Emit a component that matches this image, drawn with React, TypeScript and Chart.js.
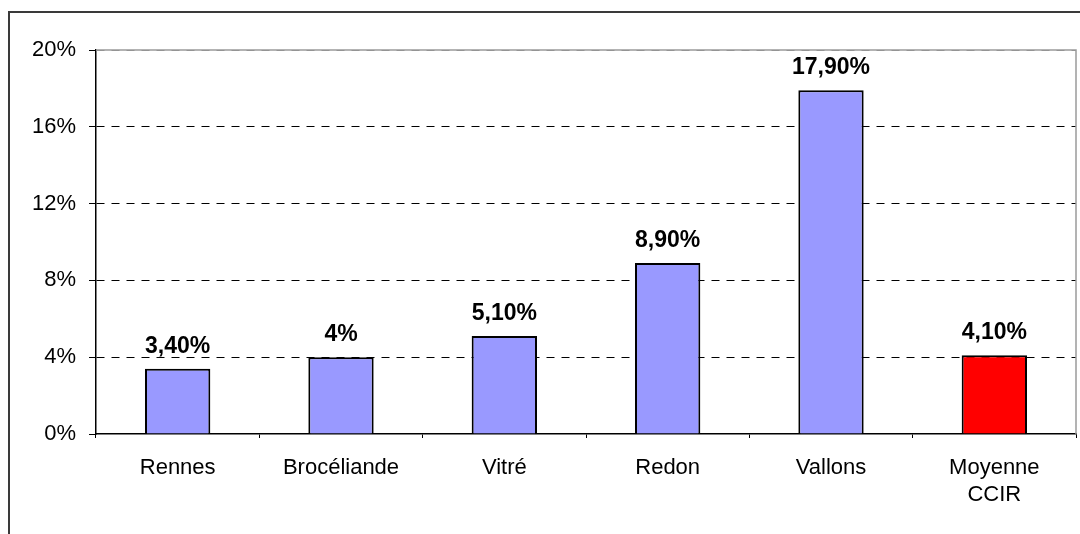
import React, { useEffect, useRef } from "react";
import { Chart, registerables } from "chart.js";

Chart.register(...registerables);

const categories: (string | string[])[] = ["Rennes", "Brocéliande", "Vitré", "Redon", "Vallons", ["Moyenne", "CCIR"]];
const values = [3.4, 4, 5.1, 8.9, 17.9, 4.1];
const valueLabels = ["3,40%", "4%", "5,10%", "8,90%", "17,90%", "4,10%"];
const barColors = ["#9999FF", "#9999FF", "#9999FF", "#9999FF", "#9999FF", "#FF0000"];
const yTicks = [0, 4, 8, 12, 16, 20];

const FONT = "'Liberation Sans', Arial, sans-serif";

const framePlugin = {
  id: "framePlugin",
  beforeDraw(chart: any) {
    const ctx = chart.ctx;
    ctx.save();
    ctx.strokeStyle = "#3a3a3a";
    ctx.lineWidth = 2;
    ctx.beginPath();
    ctx.moveTo(9, 540);
    ctx.lineTo(9, 12);
    ctx.lineTo(1090, 12);
    ctx.stroke();
    ctx.restore();
  },
  beforeDatasetsDraw(chart: any) {
    const { ctx, chartArea } = chart;
    ctx.save();
    ctx.strokeStyle = "#9a9a9a";
    ctx.lineWidth = 1.5;
    ctx.beginPath();
    ctx.moveTo(chartArea.left, chartArea.top);
    ctx.lineTo(chartArea.right, chartArea.top);
    ctx.lineTo(chartArea.right, chartArea.bottom);
    ctx.stroke();
    ctx.restore();
  },
};

const labelPlugin = {
  id: "labelPlugin",
  afterDatasetsDraw(chart: any) {
    const ctx = chart.ctx;
    const meta = chart.getDatasetMeta(0);
    ctx.save();
    ctx.font = `bold 23px ${FONT}`;
    ctx.fillStyle = "#000";
    ctx.textAlign = "center";
    ctx.textBaseline = "alphabetic";
    meta.data.forEach((bar: any, i: number) => {
      ctx.fillText(valueLabels[i], bar.x, bar.y - 16);
    });
    ctx.restore();
  },
};

export default function App() {
  const ref = useRef<HTMLCanvasElement>(null);
  useEffect(() => {
    if (!ref.current) return;
    const chart = new Chart(ref.current, {
      type: "bar",
      data: {
        labels: categories,
        datasets: [
          {
            data: values,
            backgroundColor: barColors,
            borderColor: "#000",
            borderWidth: 2,
            barPercentage: 0.4,
            categoryPercentage: 1,
          },
        ],
      },
      options: {
        animation: false,
        responsive: false,
        maintainAspectRatio: false,
        layout: { padding: { left: 0, top: 50, right: 4, bottom: 0 } },
        plugins: { legend: { display: false }, tooltip: { enabled: false } },
        scales: {
          x: {
            offset: true,
            grid: {
              offset: true,
              drawOnChartArea: false,
              drawTicks: true,
              tickLength: 4,
              color: "#000",
            },
            border: { color: "#000", width: 1.5 },
            ticks: {
              color: "#000",
              font: { family: FONT, size: 22, lineHeight: 1.25 },
              padding: 16,
              maxRotation: 0,
              autoSkip: false,
            },
            afterFit(scale: any) {
              scale.height = 100;
            },
          },
          y: {
            min: 0,
            max: 20,
            afterBuildTicks(scale: any) {
              scale.ticks = yTicks.map((v) => ({ value: v }));
            },
            grid: {
              color: (c: any) => (c.tick && c.tick.value === 20 ? "#808080" : c.tick && c.tick.value === 0 ? "rgba(0,0,0,0)" : "#000"),
              tickColor: "#000",
              tickLength: 7,
              lineWidth: 1,
            },
            border: { color: "#000", width: 1.5, dash: [8, 7] },
            ticks: {
              color: "#000",
              font: { family: FONT, size: 22 },
              padding: 13,
              callback: (v: any) => `${v}%`,
            },
            afterFit(scale: any) {
              scale.width = 96;
            },
          },
        },
      },
      plugins: [framePlugin, labelPlugin],
    });
    return () => chart.destroy();
  }, []);
  return (
    <canvas
      ref={ref}
      width={1080}
      height={534}
      style={{ position: "absolute", left: 0, top: 0, width: 1080, height: 534 }}
    />
  );
}
